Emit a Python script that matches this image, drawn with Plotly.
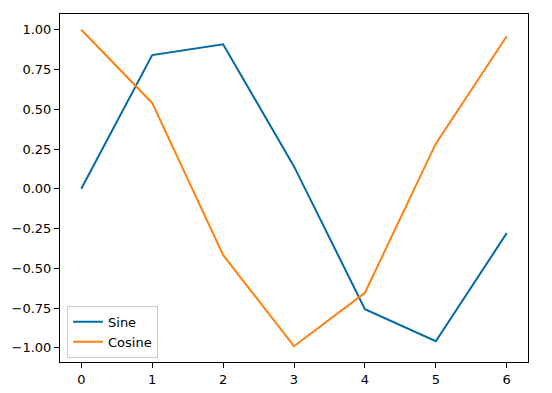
import plotly.graph_objects as go

x_vals = [0, 1, 2, 3, 4, 5, 6]
sine_vals = [0.0, 0.841, 0.909, 0.141, -0.757, -0.959, -0.279]
cosine_vals = [1.0, 0.540, -0.416, -0.990, -0.654, 0.284, 0.960]
x_ticks = [0, 1, 2, 3, 4, 5, 6]
y_ticks = [-1.0, -0.75, -0.5, -0.25, 0.0, 0.25, 0.5, 0.75, 1.0]
y_tick_text = ["−1.00", "−0.75", "−0.50", "−0.25", "0.00", "0.25", "0.50", "0.75", "1.00"]

fig = go.Figure()
fig.add_trace(go.Scatter(x=x_vals, y=sine_vals, mode="lines", name="Sine",
                         line=dict(color="#006BA4", width=2)))
fig.add_trace(go.Scatter(x=x_vals, y=cosine_vals, mode="lines", name="Cosine",
                         line=dict(color="#FF800E", width=2)))

axis_common = dict(showgrid=False, zeroline=False, showline=True, linecolor="black",
                   linewidth=1, mirror=True, ticks="outside", ticklen=5, tickwidth=1,
                   tickcolor="black", automargin=False,
                   tickfont=dict(family="DejaVu Sans", size=13, color="black"))

fig.update_xaxes(range=[-0.3, 6.3], tickvals=x_ticks, **axis_common)
fig.update_yaxes(range=[-1.0895, 1.0995], tickvals=y_ticks, ticktext=y_tick_text, **axis_common)

fig.update_layout(
    width=552, height=393,
    margin=dict(l=60, r=24, t=14, b=31),
    plot_bgcolor="white", paper_bgcolor="white",
    font=dict(family="DejaVu Sans", size=13, color="black"),
    legend=dict(x=0.015, y=0.012, xanchor="left", yanchor="bottom",
                bgcolor="rgba(255,255,255,0.8)", bordercolor="#cccccc", borderwidth=1,
                font=dict(family="DejaVu Sans", size=13, color="black"),
                itemwidth=30, tracegroupgap=0),
    showlegend=True,
)

fig.write_html("out.html", config={"displayModeBar": False},
               post_script="document.body.style.margin='0';document.body.style.overflow='hidden';")
